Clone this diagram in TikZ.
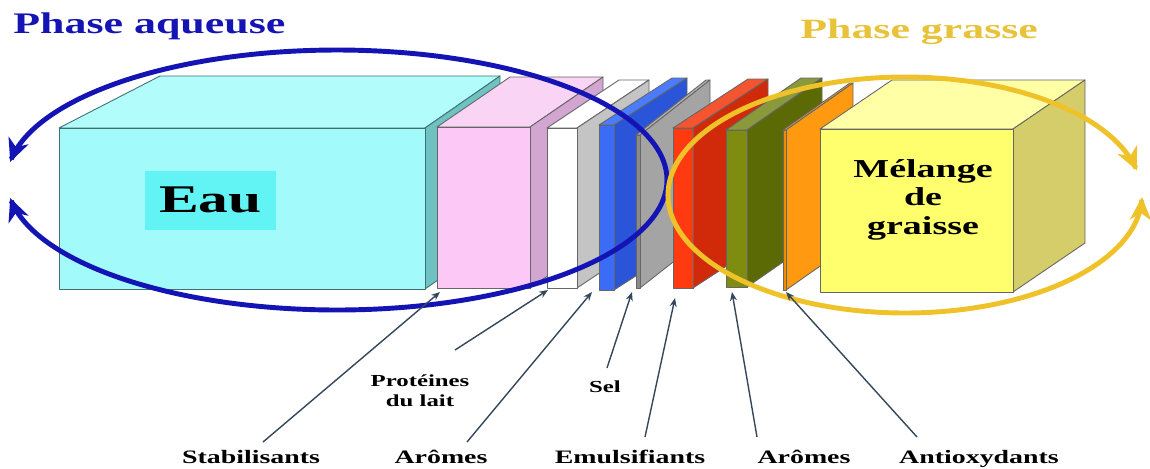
\documentclass[tikz,border=0pt]{standalone}
\usepackage{fontspec}
\setmainfont{Liberation Serif}
\usetikzlibrary{arrows.meta,calc}

% palette
\definecolor{aqueous}{HTML}{1414B4}
\definecolor{fatgold}{HTML}{F0C22A}
\definecolor{titlegold}{HTML}{E8C238}
\definecolor{eaufront}{HTML}{A2FAFA}
\definecolor{eautop}{HTML}{B2FCFC}
\definecolor{eauside}{HTML}{6EC2C2}
\definecolor{eauedge}{HTML}{3E7272}
\definecolor{eaulabel}{HTML}{62F4F4}
\definecolor{pinkfront}{HTML}{FCC8F6}
\definecolor{pinktop}{HTML}{F9D4F4}
\definecolor{pinkside}{HTML}{D2A6D0}
\definecolor{whiteside}{HTML}{C4C4C4}
\definecolor{bluefront}{HTML}{3A6CF5}
\definecolor{bluetop}{HTML}{4A7CFF}
\definecolor{blueside}{HTML}{2A55D8}
\definecolor{grayfront}{HTML}{8A8A8A}
\definecolor{grayside}{HTML}{A4A4A4}
\definecolor{graytop}{HTML}{B4B4B4}
\definecolor{redfront}{HTML}{FF3A10}
\definecolor{redside}{HTML}{D02A0A}
\definecolor{redtop}{HTML}{F45530}
\definecolor{olivefront}{HTML}{7F8C10}
\definecolor{oliveside}{HTML}{5B6A05}
\definecolor{olivetop}{HTML}{8A9A3A}
\definecolor{orangefront}{HTML}{F08C00}
\definecolor{orangeside}{HTML}{FF9A10}
\definecolor{orangetop}{HTML}{FFA530}
\definecolor{fatfront}{HTML}{FFFF6E}
\definecolor{fattop}{HTML}{FFFFA6}
\definecolor{fatside}{HTML}{D4CD6A}
\definecolor{pointer}{HTML}{36475A}

% horizontally widened lettering
\newcommand{\wide}[2][1.47]{\scalebox{#1}[1]{#2}}

% one layer: front face, right side face and top face
% #1 left x, #2 right x, #3 top y, #4 bottom y, #5 depth dx, #6 depth dy, #7 front, #8 side, #9 top
\newcommand{\drawslab}[9]{%
  \filldraw[edge, fill=#9] (#1,#3) -- (#2,#3) -- ++(#5,#6) -- ++({#1-#2},0) -- cycle;
  \filldraw[edge, fill=#8] (#2,#3) -- (#2,#4) -- ++(#5,#6) -- ++(0,{#3-#4}) -- cycle;
  \filldraw[edge, fill=#7] (#1,#3) rectangle (#2,#4);}

\begin{document}
\begin{tikzpicture}[x=0.02cm, y=-0.02cm,
  edge/.style={draw=black!60, line width=0.5pt, line join=round},
  ring/.style={line width=2.8pt, line cap=round,
    -{Stealth[length=13pt, width=12pt, inset=4pt]}},
  title/.style={inner sep=0pt, anchor=base west, font=\bfseries},
  tag/.style={inner sep=0pt, anchor=base, font=\bfseries\fontsize{10.8}{13}\selectfont},
  smalltag/.style={inner sep=0pt, align=center, font=\bfseries\fontsize{9.6}{11.3}\selectfont},
  ptr/.style={draw=pointer, line width=0.8pt, -{Stealth[length=5pt, width=4pt]}}]

\useasboundingbox (0,0) rectangle (1150,468);
\fill[white] (0,0) rectangle (1150,468);

% water block
\filldraw[edge, draw=eauedge, fill=eautop] (59,128) -- (425,128) -- (500,76) -- (160,76) -- cycle;
\filldraw[edge, draw=eauedge, fill=eauside] (425,128) -- (425,289) -- (500,237) -- (500,76) -- cycle;
\filldraw[edge, draw=eauedge, fill=eaufront] (59,128) rectangle (425,289);
\node[fill=eaulabel, minimum width=2.62cm, minimum height=1.18cm, inner sep=0pt,
      font=\bfseries\fontsize{22.3}{26}\selectfont] (eau) at (210.5,200) {\wide[1.52]{Eau}};

% intermediate layers, left to right
\drawslab{437}{530}{127}{288}{73}{-50}{pinkfront}{pinkside}{pinktop}
\drawslab{547}{577}{128}{288}{72}{-48}{white}{whiteside}{white}
\drawslab{599}{614}{125}{290}{73}{-47}{bluefront}{blueside}{bluetop}
\drawslab{636}{640}{135}{288}{70}{-55}{grayfront}{grayside}{graytop}
\drawslab{673}{693}{128}{288}{75}{-49}{redfront}{redside}{redtop}
\drawslab{726}{747}{130}{287}{75}{-52}{olivefront}{oliveside}{olivetop}
\drawslab{783}{786}{130}{290}{67}{-47}{orangefront}{orangeside}{orangetop}

% fat block
\drawslab{820}{1013}{129}{292}{72}{-49}{fatfront}{fatside}{fattop}
\node[inner sep=0pt, align=center, font=\bfseries\fontsize{14.7}{16.2}\selectfont]
  (fat) at (923,199.5) {\wide{Mélange}\\\wide{de}\\\wide{graisse}};

% phase rings
\draw[ring, draw=aqueous] plot[domain=0:172, samples=140, variable=\t]
  ({337+330*cos(\t)}, {180-130*sin(\t)});
\draw[ring, draw=aqueous] plot[domain=0:-172, samples=140, variable=\t]
  ({337+330*cos(\t)}, {180-130*sin(\t)});
\draw[ring, draw=fatgold] plot[domain=180:12, samples=140, variable=\t]
  ({905+237*cos(\t)}, {195-118*sin(\t)});
\draw[ring, draw=fatgold] plot[domain=180:359, samples=140, variable=\t]
  ({905+237*cos(\t)}, {195-118*sin(\t)});

% phase titles
\node[title, text=aqueous, font=\bfseries\fontsize{17}{20}\selectfont] (pa) at (13,33) {\wide{Phase aqueuse}};
\node[title, text=titlegold, font=\bfseries\fontsize{15.9}{19}\selectfont] (pg) at (800,38) {\wide[1.57]{Phase grasse}};

% ingredient labels
\node[tag] (stab) at (251,463) {\wide{Stabilisants}};
\node[tag] (aro1) at (441,463) {\wide{Arômes}};
\node[tag] (emul) at (630,463) {\wide{Emulsifiants}};
\node[tag] (aro2) at (804,463) {\wide{Arômes}};
\node[tag] (anti) at (979,463) {\wide{Antioxydants}};
\node[smalltag] (prot) at (420,391) {\wide{Protéines}\\\wide{du lait}};
\node[smalltag, anchor=base] (sel) at (605,392) {\wide{Sel}};

% pointer ends on the layers
\coordinate (tstab) at (440,292);
\coordinate (tprot) at (548,290);
\coordinate (taro1) at (592,292);
\coordinate (tsel)  at (632,292);
\coordinate (temul) at (675,298);
\coordinate (taro2) at (732,292);
\coordinate (tanti) at (786,292);

% pointer starts above the labels
\coordinate (sstab) at (263,442);
\coordinate (sprot) at (455,350);
\coordinate (saro1) at (467,442);
\coordinate (ssel)  at (607,368);
\coordinate (semul) at (645,437);
\coordinate (saro2) at (757,437);
\coordinate (santi) at (917,437);

\draw[ptr] (sstab) -- (tstab);
\draw[ptr] (sprot) -- (tprot);
\draw[ptr] (saro1) -- (taro1);
\draw[ptr] (ssel)  -- (tsel);
\draw[ptr] (semul) -- (temul);
\draw[ptr] (saro2) -- (taro2);
\draw[ptr] (santi) -- (tanti);

\end{tikzpicture}
\end{document}
